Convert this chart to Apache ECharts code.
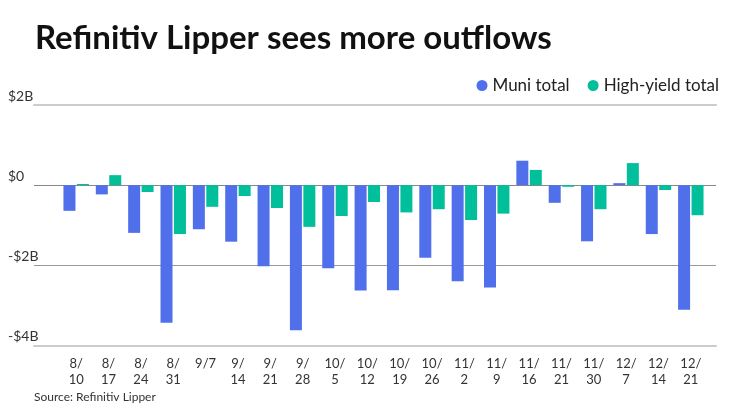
<!DOCTYPE html>
<html>
<head>
<meta charset="utf-8">
<script src="https://cdn.jsdelivr.net/npm/echarts@6/dist/echarts.min.js"></script>
<style>
  html, body { margin: 0; padding: 0; background: #fff; }
  #main { width: 740px; height: 416px; }
</style>
</head>
<body>
<div id="main"></div>
<script>
// weekly flows, $ billions
var weeks = ['8/\n10', '8/\n17', '8/\n24', '8/\n31', '9/7', '9/\n14', '9/\n21', '9/\n28', '10/\n5', '10/\n12',
    '10/\n19', '10/\n26', '11/\n2', '11/\n9', '11/\n16', '11/\n21', '11/\n30', '12/\n7', '12/\n14', '12/\n21'];
var muniTotal = [-0.64, -0.23, -1.19, -3.43, -1.1, -1.41, -2.02, -3.62, -2.07, -2.63,
    -2.62, -1.81, -2.4, -2.55, 0.61, -0.44, -1.4, 0.05, -1.22, -3.11];
var highYieldTotal = [0.03, 0.25, -0.17, -1.22, -0.54, -0.27, -0.57, -1.04, -0.77, -0.42,
    -0.68, -0.6, -0.87, -0.71, 0.38, -0.04, -0.6, 0.55, -0.12, -0.75];
var yTicks = [-4, -2, 0, 2];

var myChart = echarts.init(document.getElementById('main'));
var font = 'Lato';

var option = {
    animation: false,
    textStyle: { fontFamily: font },
    title: {
        text: 'Refinitiv Lipper sees more outflows',
        left: 30,
        top: 17,
        textStyle: { fontSize: 33, fontWeight: 'bold', color: '#111', fontFamily: font }
    },
    legend: {
        data: ['Muni total', 'High-yield total'],
        right: 16,
        top: 72,
        icon: 'circle',
        itemWidth: 11,
        itemHeight: 11,
        itemGap: 18,
        textStyle: { fontSize: 17, color: '#222', fontFamily: font }
    },
    graphic: [{
        type: 'text',
        left: 34,
        top: 391,
        style: { text: 'Source: Refinitiv Lipper', fontSize: 12, fill: '#333', fontFamily: font }
    }],
    grid: [
        { left: 34, right: 24, top: 105, bottom: 70.5 },
        { left: 60, right: 33, top: 105, bottom: 70.5 }
    ],
    xAxis: [
        {
            gridIndex: 0, type: 'value', position: 'bottom',
            axisLine: { onZero: false, lineStyle: { color: '#ccc', width: 2 } },
            axisTick: { show: false }, axisLabel: { show: false }, splitLine: { show: false }
        },
        {
            gridIndex: 0, type: 'value', position: 'top',
            axisLine: { onZero: false, lineStyle: { color: '#ccc', width: 2 } },
            axisTick: { show: false }, axisLabel: { show: false }, splitLine: { show: false }
        },
        {
            gridIndex: 1, type: 'category', data: weeks,
            axisLine: { show: false }, axisTick: { show: false },
            axisLabel: { interval: 0, fontSize: 13, lineHeight: 16, color: '#333', margin: 10, fontFamily: font }
        }
    ],
    yAxis: [
        {
            gridIndex: 0, type: 'value', min: -4, max: 2, interval: 2,
            axisLine: { show: false }, axisTick: { show: false },
            axisLabel: {
                align: 'left', verticalAlign: 'bottom', margin: 26, fontSize: 14, color: '#333',
                padding: [0, 0, 2, 0], fontFamily: font,
                formatter: function (v) { return (v < 0 ? '-' : '') + '$' + Math.abs(v) + (v === 0 ? '' : 'B'); }
            },
            splitLine: { lineStyle: { color: ['transparent', '#999', '#888', 'transparent'], width: 1 } }
        },
        {
            gridIndex: 1, type: 'value', min: -4, max: 2, interval: 2,
            axisLine: { show: false }, axisTick: { show: false },
            axisLabel: { show: false }, splitLine: { show: false }
        }
    ],
    series: [
        {
            name: 'Muni total', type: 'bar', xAxisIndex: 2, yAxisIndex: 1,
            data: muniTotal, barWidth: 12, barGap: '12%',
            itemStyle: { color: '#4F6FEB' }
        },
        {
            name: 'High-yield total', type: 'bar', xAxisIndex: 2, yAxisIndex: 1,
            data: highYieldTotal, barWidth: 12,
            itemStyle: { color: '#00BF9A' }
        }
    ]
};

myChart.setOption(option);
</script>
</body>
</html>
